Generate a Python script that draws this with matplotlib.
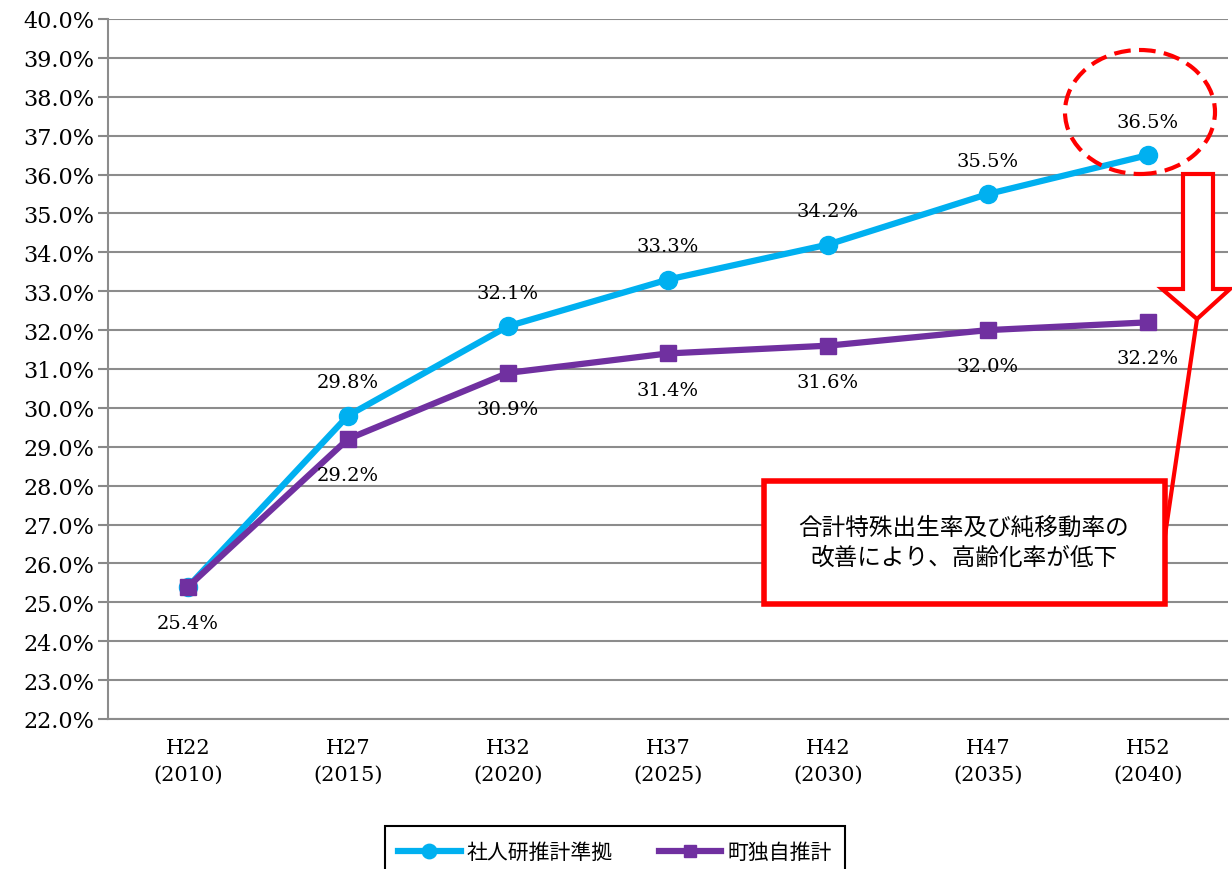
import matplotlib
matplotlib.use("Agg")
import matplotlib.pyplot as plt
from matplotlib.patches import Ellipse, Polygon, Rectangle
from matplotlib.lines import Line2D

categories = ["H22\n(2010)", "H27\n(2015)", "H32\n(2020)", "H37\n(2025)",
              "H42\n(2030)", "H47\n(2035)", "H52\n(2040)"]
series_ipss = [25.4, 29.8, 32.1, 33.3, 34.2, 35.5, 36.5]
series_town = [25.4, 29.2, 30.9, 31.4, 31.6, 32.0, 32.2]
name_ipss = "社人研推計準拠"
name_town = "町独自推計"
note_text = "合計特殊出生率及び純移動率の\n改善により、高齢化率が低下"
yticks = [22 + i for i in range(19)]

W, H = 1232, 870
fig = plt.figure(figsize=(W / 100, H / 100), dpi=100)
ax = fig.add_axes([108 / W, 1 - 720 / H, (1228 - 108) / W, 700 / H])

serif = ["DejaVu Serif"]
jp = ["Noto Sans CJK JP", "DejaVu Sans"]

x = list(range(len(categories)))
cyan = "#00B0F0"
purple = "#7030A0"
ax.plot(x, series_ipss, color=cyan, lw=4.5, marker="o", ms=13, zorder=4, label=name_ipss)
ax.plot(x, series_town, color=purple, lw=4.5, marker="s", ms=11, zorder=5, label=name_town)

ax.set_xlim(-0.5, len(categories) - 0.5)
ax.set_ylim(22, 40)
ax.set_yticks(yticks)
ax.set_yticklabels([f"{v:.1f}%" for v in yticks], fontfamily=serif, fontsize=16)
ax.set_xticks(x)
ax.set_xticklabels(categories, fontfamily=serif, fontsize=15, linespacing=1.5)
ax.tick_params(axis="x", length=0, pad=14)
ax.tick_params(axis="y", length=7, color="#888888", width=1.5, pad=3)
ax.grid(axis="y", color="#8c8c8c", lw=1.5)
ax.set_axisbelow(True)
for s in ["top", "right"]:
    ax.spines[s].set_visible(False)
for s in ["left", "bottom"]:
    ax.spines[s].set_color("#8c8c8c")
    ax.spines[s].set_linewidth(1.5)

# data labels
for i, v in enumerate(series_ipss):
    if i == 0:
        continue
    ax.annotate(f"{v:.1f}%", (i, v), xytext=(0, 24), textcoords="offset points",
                ha="center", va="center", fontsize=14, fontfamily=serif, zorder=6)
for i, v in enumerate(series_town):
    ax.annotate(f"{v:.1f}%", (i, v), xytext=(0, -26), textcoords="offset points",
                ha="center", va="center", fontsize=14, fontfamily=serif, zorder=6)

def fx(px):
    return px / W

def fy(py):
    return 1 - py / H

red = "#FF0000"
# dashed ellipse
ell = Ellipse((fx(1140), fy(113)), 150 / W, 124 / H, transform=fig.transFigure,
              fill=False, edgecolor=red, lw=3, ls=(0, (4, 2)), zorder=10)
fig.patches.append(ell)

# block arrow
pts = [(1183, 175), (1213, 175), (1213, 290), (1230, 290), (1197, 320),
       (1162, 290), (1183, 290)]
arrow = Polygon([(fx(a), fy(b)) for a, b in pts], closed=True, transform=fig.transFigure,
                facecolor="white", edgecolor=red, lw=3, zorder=10)
fig.patches.append(arrow)

# connector line
fig.lines.append(Line2D([fx(1197), fx(1163)], [fy(320), fy(550)], transform=fig.transFigure,
                        color=red, lw=3, zorder=9))

# note box
box = Rectangle((fx(764), fy(605)), (1165 - 764) / W, (605 - 482) / H,
                transform=fig.transFigure, facecolor="white", edgecolor=red, lw=4, zorder=10)
fig.patches.append(box)
fig.text(fx(964), fy(543), note_text, ha="center", va="center", fontsize=17,
         fontfamily=jp, linespacing=1.4, zorder=11)

# legend frame (extends past the bottom edge as in the reference)
frame = Rectangle((fx(385), fy(885)), (845 - 385) / W, (885 - 827) / H,
                  transform=fig.transFigure, facecolor="none", edgecolor="black",
                  lw=1.5, zorder=-1)
fig.patches.append(frame)
leg = ax.legend(loc="center", bbox_to_anchor=(fx(615), fy(853)),
                bbox_transform=fig.transFigure, ncol=2, frameon=False,
                prop={"family": jp, "size": 15}, handlelength=3, columnspacing=2.2,
                borderpad=0, borderaxespad=0, handletextpad=0.3, markerscale=0.8)
leg.set_zorder(20)

fig.savefig("out.png", dpi=100)
